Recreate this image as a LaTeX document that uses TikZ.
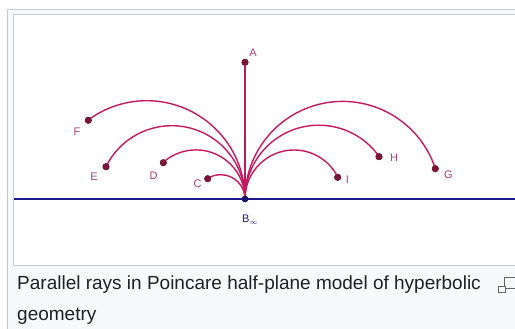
\documentclass[tikz,border=0pt]{standalone}
\usepackage{fontspec}
\setmainfont{Liberation Sans}
\definecolor{framegray}{HTML}{C8CCD1}
\definecolor{capbg}{HTML}{F8F9FA}
\definecolor{raycol}{HTML}{C41A62}
\definecolor{dotcol}{HTML}{7A1538}
\definecolor{labcol}{HTML}{B03E7A}
\definecolor{linecol}{HTML}{1A1A8C}
\definecolor{captext}{HTML}{202122}
\begin{document}
\begin{tikzpicture}[x=1pt,y=1pt,
  pt/.style={circle,fill=dotcol,draw=dotcol!70!black,line width=0.5pt,inner sep=0pt,minimum size=6.5pt},
  lab/.style={text=labcol,font=\fontsize{11}{11}\selectfont,inner sep=0pt},
  ray/.style={draw=raycol,line width=1.4pt},
  captxt/.style={text=captext,font=\fontsize{19}{19}\selectfont,inner sep=0pt,anchor=base west}]
\useasboundingbox (0,0) rectangle (515,329);
\begin{scope}
\clip (0,0) rectangle (515,329);
% frames
\draw[framegray,fill=capbg,line width=0.8pt] (7,-5) rectangle (530,320);
\draw[framegray,fill=white,line width=0.8pt] (13,64) rectangle (530,315);
% icon
\draw[captext!70,line width=1pt] (504,40) rectangle (525,51);
\draw[captext!70,fill=capbg,line width=1pt] (498.5,36.5) rectangle (505,42);
\end{scope}
% baseline
\coordinate (L0) at (14,130);
\coordinate (L1) at (515,130);
\draw[linecol,line width=2pt] (L0) -- (L1);
% points
\node[pt] (A) at (245,266.7) {};
\node[pt,fill=linecol!80!black,draw=linecol!80!black,minimum size=6pt] (B) at (245,130) {};
\node[pt] (C) at (207.7,150.3) {};
\node[pt] (D) at (163.3,166.3) {};
\node[pt] (E) at (106,162.3) {};
\node[pt] (F) at (88.3,208.7) {};
\node[pt] (G) at (435.3,160.3) {};
\node[pt] (H) at (379,172.3) {};
\node[pt] (I) at (337.7,151.7) {};
% rays
\draw[ray] (B.center) -- (A.center);
\draw[ray] (B.center) arc[start angle=0,end angle=126.5,radius=98.3];
\draw[ray] (B.center) arc[start angle=0,end angle=153.6,radius=73.3];
\draw[ray] (B.center) arc[start angle=0,end angle=131.7,radius=49.1];
\draw[ray] (B.center) arc[start angle=0,end angle=122.3,radius=24.3];
\draw[ray] (B.center) arc[start angle=180,end angle=18.3,radius=97.6];
\draw[ray] (B.center) arc[start angle=180,end angle=35.3,radius=73.8];
\draw[ray] (B.center) arc[start angle=180,end angle=26.7,radius=49];
% redraw dots on top
\foreach \n in {A,C,D,E,F,G,H,I} \fill[dotcol] (\n) circle (3.2);
\fill[linecol!80!black] (B) circle (3);
% labels
\node[lab] (lA) at (253,276.5) {A};
\node[lab] (lF) at (77,197.5) {F};
\node[lab] (lE) at (94,152.3) {E};
\node[lab] (lD) at (153.5,153.5) {D};
\node[lab] (lC) at (197.5,145) {C};
\node[lab] (lI) at (347.5,149) {I};
\node[lab] (lH) at (394,171.3) {H};
\node[lab] (lG) at (448.3,154.7) {G};
\node[lab,text=linecol,anchor=west] (lB) at (242,109.5) {B\raisebox{-2.5pt}{\fontsize{7}{7}\selectfont$\infty$}};
% caption
\node[captxt] (cap1) at (17,39) {Parallel rays in Poincare half-plane model of hyperbolic};
\node[captxt] (cap2) at (17,8) {geometry};
\end{tikzpicture}
\end{document}
